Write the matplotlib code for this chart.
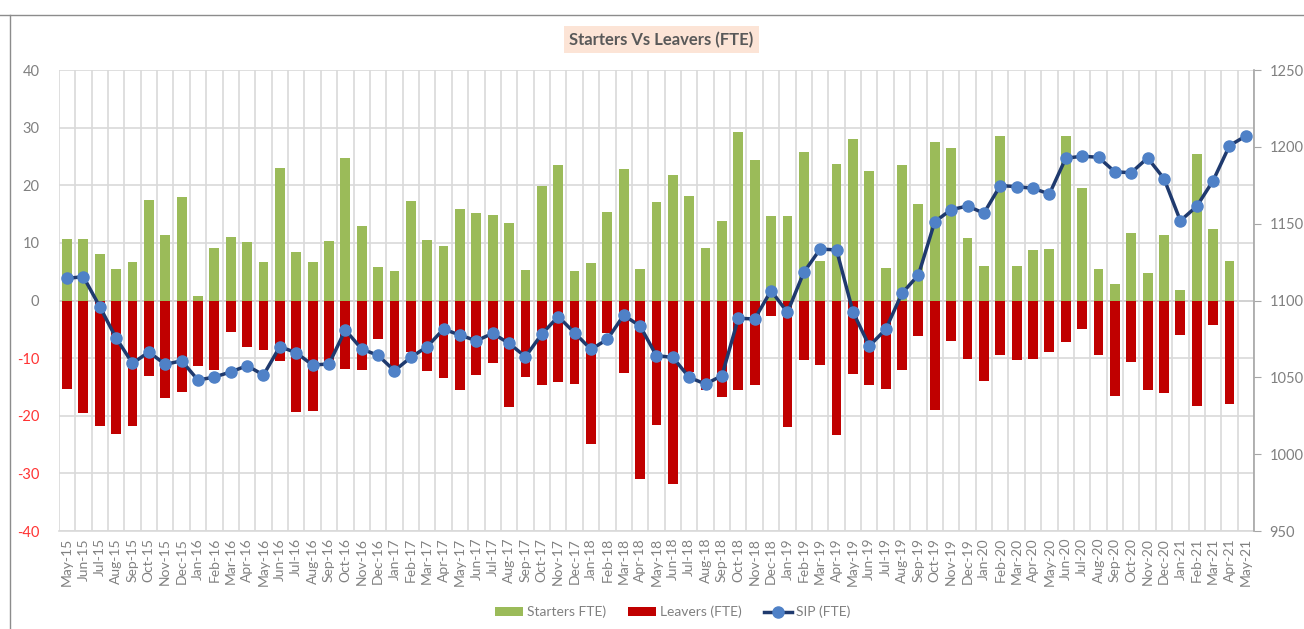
import numpy as np
import matplotlib
matplotlib.use('Agg')
import matplotlib.pyplot as plt
from matplotlib.lines import Line2D
from matplotlib.patches import Patch

plt.rcParams['font.family'] = ['Lato', 'DejaVu Sans']

# --------------------------------------
# Data
# --------------------------------------
months = ['May-15', 'Jun-15', 'Jul-15', 'Aug-15', 'Sep-15', 'Oct-15', 'Nov-15', 'Dec-15',
          'Jan-16', 'Feb-16', 'Mar-16', 'Apr-16', 'May-16', 'Jun-16', 'Jul-16', 'Aug-16',
          'Sep-16', 'Oct-16', 'Nov-16', 'Dec-16',
          'Jan-17', 'Feb-17', 'Mar-17', 'Apr-17', 'May-17', 'Jun-17', 'Jul-17', 'Aug-17',
          'Sep-17', 'Oct-17', 'Nov-17', 'Dec-17',
          'Jan-18', 'Feb-18', 'Mar-18', 'Apr-18', 'May-18', 'Jun-18', 'Jul-18', 'Aug-18',
          'Sep-18', 'Oct-18', 'Nov-18', 'Dec-18',
          'Jan-19', 'Feb-19', 'Mar-19', 'Apr-19', 'May-19', 'Jun-19', 'Jul-19', 'Aug-19',
          'Sep-19', 'Oct-19', 'Nov-19', 'Dec-19',
          'Jan-20', 'Feb-20', 'Mar-20', 'Apr-20', 'May-20', 'Jun-20', 'Jul-20', 'Aug-20',
          'Sep-20', 'Oct-20', 'Nov-20', 'Dec-20',
          'Jan-21', 'Feb-21', 'Mar-21', 'Apr-21', 'May-21']

starters = [10.7, 10.7, 8.1, 5.5, 6.6, 17.5, 11.4, 17.9,
            0.8, 9.1, 11.0, 10.2, 6.6, 23.0, 8.4, 6.6, 10.3, 24.7, 13.0, 5.9,
            5.2, 17.3, 10.5, 9.5, 15.9, 15.1, 14.9, 13.5, 5.3, 19.9, 23.5, 5.2,
            6.5, 15.4, 22.8, 5.4, 17.1, 21.7, 18.1, 9.1, 13.8, 29.3, 24.3, 14.6,
            14.7, 25.8, 6.9, 23.7, 28.0, 22.4, 5.7, 23.5, 16.8, 27.5, 26.5, 10.9,
            6.0, 28.5, 6.0, 8.7, 9.0, 28.5, 19.5, 5.4, 2.9, 11.8, 4.7, 11.4,
            1.9, 25.4, 12.4, 6.9, np.nan]

leavers = [-15.3, -19.5, -21.7, -23.1, -21.7, -13.1, -16.9, -15.9,
           -11.3, -12.0, -5.4, -8.0, -8.6, -10.5, -19.3, -19.1, -11.0, -11.9, -12.1, -6.6,
           -12.4, -9.0, -12.2, -13.5, -15.5, -13.0, -10.8, -18.4, -13.3, -14.7, -14.2, -14.5,
           -24.9, -5.7, -12.5, -31.0, -21.6, -31.8, -12.4, -15.5, -16.8, -15.5, -14.7, -2.7,
           -22.0, -10.4, -11.2, -23.3, -12.7, -14.7, -15.4, -12.0, -6.1, -19.0, -7.0, -10.1,
           -13.9, -9.5, -10.3, -10.1, -9.0, -7.2, -4.9, -9.5, -16.5, -10.6, -15.5, -16.0,
           -6.0, -18.3, -4.2, -17.9, np.nan]

sip = [1114.4, 1115.5, 1096.0, 1075.6, 1059.1, 1066.5, 1058.4, 1060.8,
       1048.2, 1050.2, 1053.5, 1057.6, 1051.5, 1070.0, 1066.0, 1058.0, 1058.7, 1080.8, 1068.4, 1064.3,
       1054.3, 1063.0, 1070.0, 1081.4, 1077.5, 1073.8, 1078.6, 1072.1, 1063.4, 1078.2, 1089.5, 1079.0,
       1068.2, 1074.7, 1090.4, 1083.4, 1064.1, 1063.0, 1050.0, 1045.6, 1051.1, 1088.4, 1088.0, 1106.4,
       1092.3, 1118.3, 1133.5, 1132.9, 1092.7, 1070.4, 1081.2, 1104.7, 1116.6, 1151.3, 1159.1, 1161.5,
       1156.8, 1174.8, 1174.1, 1173.0, 1169.3, 1192.6, 1193.9, 1193.2, 1183.7, 1183.2, 1192.8, 1179.3,
       1151.9, 1161.3, 1178.0, 1200.8, 1207.1]

left_ticks = [40, 30, 20, 10, 0, -10, -20, -30, -40]
right_ticks = [1250, 1200, 1150, 1100, 1050, 1000, 950]

GREEN = '#9bbb59'
RED = '#c00000'
NAVY = '#1f3a6e'
MARK = '#4f81c7'
GRID = '#d9d9d9'
TXT = '#808080'

# --------------------------------------
# Plot
# --------------------------------------
fig = plt.figure(figsize=(13.04, 6.29), dpi=100)
ax = fig.add_axes([0.0451, 0.1558, 0.9166, 0.7329])

x = np.arange(len(months))
ax.bar(x, starters, width=0.6, color=GREEN, zorder=2)
ax.bar(x, leavers, width=0.6, color=RED, zorder=2)

ax.set_xlim(-0.5, len(months) - 0.5)
ax.set_ylim(-40, 40)
ax.set_yticks(left_ticks)
ax.set_yticklabels([str(t) for t in left_ticks])
for lab, t in zip(ax.get_yticklabels(), left_ticks):
    lab.set_color('#ff3333' if t < 0 else TXT)
ax.tick_params(axis='y', length=0, labelsize=10.5, pad=14)

# vertical grid lines between months
ax.set_xticks(np.arange(-0.5, len(months), 1.0), minor=True)
ax.grid(which='minor', axis='x', color=GRID, lw=1.2, zorder=0)
ax.grid(which='major', axis='y', color=GRID, lw=1.2, zorder=0)
ax.axhline(0, color='#a6a6a6', lw=1.2, zorder=1)
ax.set_xticks(x)
ax.set_xticklabels(months, rotation=90, color=TXT, fontsize=10)
ax.tick_params(axis='x', which='both', length=0, pad=5)
for s in ['top', 'left', 'right']:
    ax.spines[s].set_visible(False)
ax.spines['bottom'].set_color(GRID)
ax.spines['bottom'].set_linewidth(1.2)

ax2 = ax.twinx()
ax2.plot(x, sip, color=NAVY, lw=2.5, marker='o', markersize=8,
         markerfacecolor=MARK, markeredgecolor=MARK, zorder=3)
ax2.set_ylim(950, 1250)
ax2.set_yticks(right_ticks)
ax2.tick_params(axis='y', colors='#a6a6a6', labelcolor=TXT, length=5,
                direction='out', labelsize=10.5, pad=6)
for s in ['top', 'left', 'bottom']:
    ax2.spines[s].set_visible(False)
ax2.spines['right'].set_color('#a6a6a6')
ax2.spines['right'].set_linewidth(1.2)

fig.text(0.507, 0.937, 'Starters Vs Leavers (FTE)', ha='center', va='center',
         fontsize=12, fontweight='bold', color='#595959',
         bbox=dict(facecolor='#fce4d6', edgecolor='none', pad=4))

handles = [Patch(facecolor=GREEN), Patch(facecolor=RED),
           Line2D([], [], color=NAVY, lw=2.5, marker='o', markersize=8,
                  markerfacecolor=MARK, markeredgecolor=MARK)]
fig.legend(handles, ['Starters FTE)', 'Leavers (FTE)', 'SIP (FTE)'],
           loc='center', bbox_to_anchor=(0.516, 0.027), ncol=3, frameon=False,
           fontsize=10, labelcolor=TXT, handlelength=2.0, handleheight=0.6,
           columnspacing=1.6, handletextpad=0.3)

# chart-area border (top and left)
fig.add_artist(Line2D([0, 1], [0.976, 0.976], transform=fig.transFigure, color='#8c8c8c', lw=1))
fig.add_artist(Line2D([0.008, 0.008], [0, 0.976], transform=fig.transFigure, color='#8c8c8c', lw=1))

fig.savefig('out.png', dpi=100)
